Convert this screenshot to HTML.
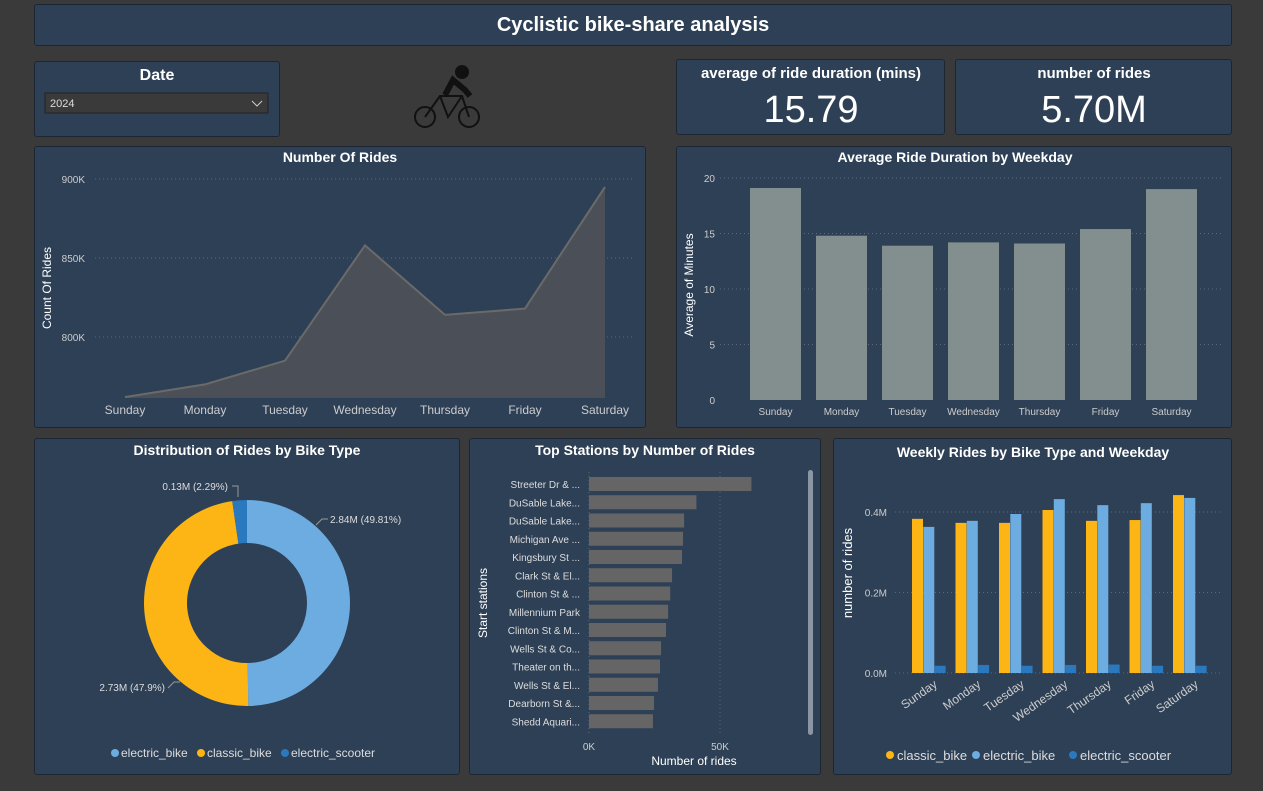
<!DOCTYPE html>
<html><head><meta charset="utf-8"><style>
html,body{margin:0;padding:0;background:#3a3a3a;width:1263px;height:791px;overflow:hidden;font-family:"Liberation Sans",sans-serif}
.p{position:absolute;background:#2e4056;border:1px solid #1c2633;border-radius:3px;box-sizing:border-box}
svg{position:absolute;left:0;top:0}
text{font-family:"Liberation Sans",sans-serif}
</style></head><body>
<div class="p" style="left:34px;top:4px;width:1198px;height:42px"></div>
<div class="p" style="left:34px;top:61px;width:246px;height:76px"></div>
<div class="p" style="left:676px;top:59px;width:269px;height:76px"></div>
<div class="p" style="left:955px;top:59px;width:277px;height:76px"></div>
<div class="p" style="left:34px;top:146px;width:612px;height:282px"></div>
<div class="p" style="left:676px;top:146px;width:556px;height:282px"></div>
<div class="p" style="left:34px;top:438px;width:426px;height:337px"></div>
<div class="p" style="left:469px;top:438px;width:352px;height:337px"></div>
<div class="p" style="left:833px;top:438px;width:399px;height:337px"></div>
<svg id="s" width="1263" height="791" xmlns="http://www.w3.org/2000/svg">
<text x="633" y="31" fill="#fff" font-size="20" font-weight="bold" text-anchor="middle">Cyclistic bike-share analysis</text>
<text x="157" y="80" fill="#fff" font-size="16" font-weight="bold" text-anchor="middle">Date</text>
<g><rect x="45" y="93" width="223" height="20" fill="#3a3a3a" stroke="#222"/><text x="50" y="107" fill="#ddd" font-size="11">2024</text><path d="M252 101 l5 5 l5 -5" stroke="#ccc" fill="none"/></g>
<g fill="none" stroke="#111" stroke-width="2"><circle cx="425" cy="117" r="10"/><circle cx="469" cy="117" r="10"/><path d="M425 117 L440 96 L462 96 L469 117 M440 96 L448 117 L462 96"/><circle cx="462" cy="72" r="6" fill="#111"/><path d="M445 95 L453 80 L465 90 L470 96" stroke-width="6"/></g>
<text x="811" y="78" fill="#fff" font-size="15" font-weight="bold" text-anchor="middle">average of ride duration (mins)</text>
<text x="811" y="122" fill="#fff" font-size="38" text-anchor="middle">15.79</text>
<text x="1094" y="78" fill="#fff" font-size="15" font-weight="bold" text-anchor="middle">number of rides</text>
<text x="1094" y="122" fill="#fff" font-size="38" text-anchor="middle">5.70M</text>
<g id="g"></g>
</svg>
<script>
const days=['Sunday','Monday','Tuesday','Wednesday','Thursday','Friday','Saturday'];
const ridesByDay=[762,770,785,858,814,818,895];
const lineTicks=[800,850,900];
const avgMinutes=[19.1,14.8,13.9,14.2,14.1,15.4,19.0];
const avgTicks=[0,5,10,15,20];
const stations=['Streeter Dr & ...','DuSable Lake...','DuSable Lake...','Michigan Ave ...','Kingsbury St ...','Clark St & El...','Clinton St & ...','Millennium Park','Clinton St & M...','Wells St & Co...','Theater on th...','Wells St & El...','Dearborn St &...','Shedd Aquari...'];
const stationRides=[62,41,36.3,35.9,35.5,31.7,31,30.2,29.4,27.5,27.1,26.3,24.8,24.4];
const bikeTypes=['electric_bike','classic_bike','electric_scooter'];
const bikeShare=[49.81,47.9,2.29];
const bikeLabels=['2.84M (49.81%)','2.73M (47.9%)','0.13M (2.29%)'];
const classicWeekly=[0.383,0.373,0.373,0.405,0.378,0.38,0.442];
const electricWeekly=[0.363,0.378,0.395,0.432,0.417,0.422,0.435];
const scooterWeekly=[0.018,0.02,0.018,0.02,0.021,0.018,0.018];
const weeklyTicks=[0,0.2,0.4];
const G=document.getElementById('g');const NS='http://www.w3.org/2000/svg';
function el(t,a,txt){const e=document.createElementNS(NS,t);for(const k in a)e.setAttribute(k,a[k]);if(txt!=null)e.textContent=txt;G.appendChild(e);return e;}
// line chart
el('text',{x:340,y:162,fill:'#fff','font-size':14,'font-weight':'bold','text-anchor':'middle'},'Number Of Rides');
const ly=v=>337-(v-800)*79/50, lx=i=>125+i*80;
lineTicks.forEach(t=>{const l=el('line',{x1:95,x2:635,y1:ly(t),y2:ly(t),stroke:'#5a6a7c','stroke-dasharray':'1 3'});
const tx=el('text',{x:85,y:ly(t)+4,fill:'#ccc','font-size':10,'text-anchor':'end'},t+'K');});
let pts=ridesByDay.map((v,i)=>lx(i)+','+ly(v)).join(' ');
const ar=el('polygon',{points:lx(0)+',398 '+pts+' '+lx(6)+',398',fill:'#4b5058'});
const pl=el('polyline',{points:pts,fill:'none',stroke:'#6a6a6a','stroke-width':2});
days.forEach((d,i)=>{const t=el('text',{x:lx(i),y:414,fill:'#ccc','font-size':12,'text-anchor':'middle'},d);});
const yt=el('text',{x:51,y:288,fill:'#fff','font-size':12,'text-anchor':'middle',transform:'rotate(-90 51 288)'},'Count Of Rides');
// avg bar chart
el('text',{x:955,y:162,fill:'#fff','font-size':14,'font-weight':'bold','text-anchor':'middle'},'Average Ride Duration by Weekday');
const ay=v=>400-v*11.1, ax=i=>750+i*66;
avgTicks.forEach(t=>{if(t>0){const l=el('line',{x1:720,x2:1222,y1:ay(t),y2:ay(t),stroke:'#5a6a7c','stroke-dasharray':'1 3'});}
const tx=el('text',{x:715,y:ay(t)+4,fill:'#ccc','font-size':10,'text-anchor':'end'},t);});
avgMinutes.forEach((v,i)=>{const r=el('rect',{x:ax(i),y:ay(v),width:51,height:v*11.1,fill:'#838f8e'});
const t=el('text',{x:ax(i)+25.5,y:415,fill:'#ccc','font-size':10,'text-anchor':'middle'},days[i]);});
el('text',{x:693,y:285,fill:'#fff','font-size':12,'text-anchor':'middle',transform:'rotate(-90 693 285)'},'Average of Minutes');
// donut
el('text',{x:247,y:455,fill:'#fff','font-size':14,'font-weight':'bold','text-anchor':'middle'},'Distribution of Rides by Bike Type');
const cols=['#6cace0','#fdb515','#2a78bd'];const cx=247,cy=603,R=103,r=60;let a0=0;
// label leader geometry (layout only)
const leaderPts=[[[340,522],[322,522],[316,525]],[[163,688],[172,688],[178,682]],[[232,487],[239,487],[239,498]]];
const labelPos=[[326,523,'start'],[86,691,'start'],[158,490,'start']];
bikeShare.forEach((s,i)=>{const a1=a0+s/100*2*Math.PI;const p=(a,rr)=>[cx+rr*Math.sin(a),cy-rr*Math.cos(a)];const L=(a1-a0)>Math.PI?1:0;
const [x1,y1]=p(a0,R),[x2,y2]=p(a1,R),[x3,y3]=p(a1,r),[x4,y4]=p(a0,r);
const pa=el('path',{d:`M${x1} ${y1} A${R} ${R} 0 ${L} 1 ${x2} ${y2} L${x3} ${y3} A${r} ${r} 0 ${L} 0 ${x4} ${y4}Z`,fill:cols[i]});
a0=a1;});
bikeLabels.forEach((lb,i)=>{const lp=leaderPts[i];
if(i===0){el('polyline',{points:'316,525 322,519 328,519',fill:'none',stroke:'#999'});}
else if(i===1){el('polyline',{points:'168,688 174,682 180,682',fill:'none',stroke:'#999'});}
else{el('polyline',{points:'232,486 238,486 238,497',fill:'none',stroke:'#999'});}
const pos=i===0?[330,523]:i===1?[165,691]:[228,490];
const t=el('text',{x:pos[0],y:pos[1],fill:'#ddd','font-size':10,'text-anchor':i===0?'start':'end'},lb);});
let lgx=[110,196,280];bikeTypes.forEach((b,i)=>{el('circle',{cx:lgx[i]+5,cy:753,r:4,fill:cols[i]});const t=el('text',{x:lgx[i]+11,y:757,fill:'#ddd','font-size':12},b);});
// stations
el('text',{x:645,y:455,fill:'#fff','font-size':14,'font-weight':'bold','text-anchor':'middle'},'Top Stations by Number of Rides');
const sx=v=>589+v*131/50;
[0,50].forEach(t=>{el('line',{x1:sx(t),x2:sx(t),y1:472,y2:735,stroke:'#5a6a7c','stroke-dasharray':'1 3'});const tx=el('text',{x:sx(t),y:750,fill:'#ccc','font-size':10,'text-anchor':'middle'},t+'K');});
stationRides.forEach((v,i)=>{const y=477+i*18.25;const b=el('rect',{x:589,y:y,width:sx(v)-589,height:14,fill:'#656565'});
const t=el('text',{x:580,y:y+11,fill:'#ddd','font-size':10,'text-anchor':'end'},stations[i]);});
el('text',{x:487,y:603,fill:'#fff','font-size':12,'text-anchor':'middle',transform:'rotate(-90 487 603)'},'Start stations');
el('text',{x:694,y:765,fill:'#fff','font-size':12,'text-anchor':'middle'},'Number of rides');
const sb=el('rect',{x:808,y:470,width:5,height:265,rx:2.5,fill:'#8a96a3'});
// weekly
el('text',{x:1033,y:457,fill:'#fff','font-size':14,'font-weight':'bold','text-anchor':'middle'},'Weekly Rides by Bike Type and Weekday');
const wy=v=>673-v*161/0.4, wx=i=>912+i*43.5;
weeklyTicks.forEach(t=>{el('line',{x1:895,x2:1222,y1:wy(t),y2:wy(t),stroke:'#5a6a7c','stroke-dasharray':'1 3'});const tx=el('text',{x:887,y:wy(t)+4,fill:'#ccc','font-size':10,'text-anchor':'end'},t.toFixed(1)+'M');});
[classicWeekly,electricWeekly,scooterWeekly].forEach((ser,k)=>ser.forEach((v,i)=>{const b=el('rect',{x:wx(i)+k*11.3,y:wy(v),width:11,height:v*161/0.4,fill:[cols[1],cols[0],cols[2]][k]});}));
days.forEach((d,i)=>{const x=wx(i)+26,y=686;const t=el('text',{x:x,y:y,fill:'#ccc','font-size':12,'text-anchor':'end',transform:`rotate(-35 ${x} ${y})`},d);});
el('text',{x:852,y:573,fill:'#fff','font-size':13,'text-anchor':'middle',transform:'rotate(-90 852 573)'},'number of rides');
[[886,'classic_bike',cols[1]],[972,'electric_bike',cols[0]],[1069,'electric_scooter',cols[2]]].forEach(([x,n,c])=>{el('circle',{cx:x+4,cy:755,r:4,fill:c});const t=el('text',{x:x+11,y:760,fill:'#ddd','font-size':13},n);});
</script>
</body></html>
